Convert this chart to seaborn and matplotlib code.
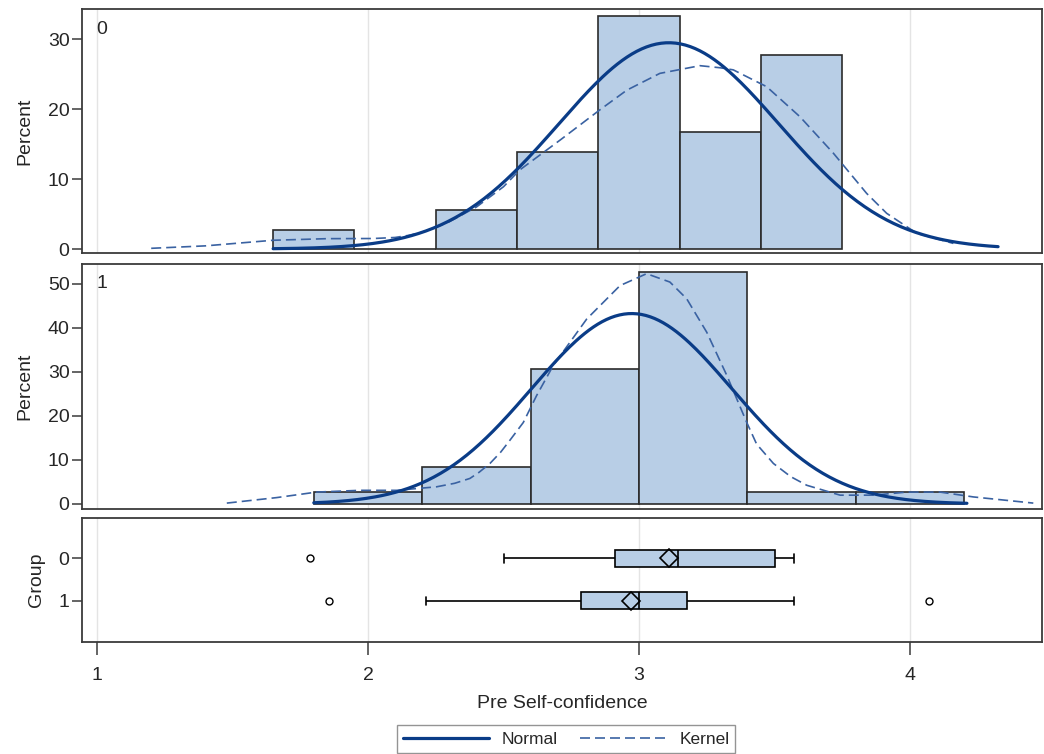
import numpy as np
import pandas as pd
import matplotlib
matplotlib.use("Agg")
import matplotlib.pyplot as plt
from matplotlib.lines import Line2D
import seaborn as sns

# ---------------- data ----------------
group0_scores = [1.786, 2.5, 2.5, 2.571, 2.643, 2.714, 2.786, 2.786,
                 2.857, 2.929, 3.0, 3.0, 3.0, 3.071, 3.071, 3.071,
                 3.143, 3.143, 3.143, 3.143,
                 3.214, 3.286, 3.286, 3.357, 3.357, 3.429,
                 3.5, 3.5, 3.5, 3.5, 3.5, 3.5, 3.5, 3.571, 3.571, 3.571]
group1_scores = [1.857, 2.214, 2.429, 2.5,
                 2.643, 2.643, 2.714, 2.714, 2.786, 2.786, 2.857, 2.857,
                 2.929, 2.929, 2.929,
                 3.0, 3.0, 3.0, 3.0, 3.0, 3.0, 3.0, 3.0, 3.071, 3.071,
                 3.143, 3.143, 3.286, 3.286, 3.286, 3.286, 3.286, 3.286, 3.357,
                 3.571, 4.071]
bin_edges0 = [1.65, 1.95, 2.25, 2.55, 2.85, 3.15, 3.45, 3.75]
bin_edges1 = [1.8, 2.2, 2.6, 3.0, 3.4, 3.8, 4.2]

# fitted normal curves (mean, sd, drawn range)
normal0_mean, normal0_sd, normal0_range = 3.11, 0.406, (1.65, 4.325)
normal1_mean, normal1_sd, normal1_range = 2.973, 0.369, (1.80, 4.21)

kernel0_x = [1.20, 1.40, 1.65, 1.85, 2.02, 2.10, 2.15, 2.20, 2.25, 2.30, 2.40, 2.50, 2.56,
             2.71, 2.856, 2.955, 3.077, 3.225, 3.30, 3.348, 3.471, 3.594,
             3.717, 3.84, 3.914, 4.025, 4.16]
kernel0_y = [0.1, 0.45, 1.25, 1.48, 1.5, 1.65, 1.95, 2.4, 3.1, 3.9, 6.0, 8.9, 11.3,
             15.6, 19.9, 22.7, 25.1, 26.2, 25.9, 25.6, 23.2, 18.9,
             13.7, 7.95, 5.1, 2.24, 0.8]
kernel1_x = [1.479, 1.663, 1.81, 1.97, 2.106, 2.253, 2.32, 2.376, 2.41, 2.45, 2.49,
             2.524, 2.573, 2.622, 2.684, 2.807, 2.93, 3.028, 3.114, 3.176, 3.25, 3.324,
             3.397, 3.434, 3.496, 3.56, 3.619, 3.742, 3.865, 3.988, 4.111, 4.234, 4.455]
kernel1_y = [0.2, 1.45, 2.7, 3.1, 3.1, 3.9, 4.7, 5.8, 7.2, 9.2, 11.8,
             14.5, 18.5, 24.6, 31.5, 42.0, 49.6, 52.3, 50.4, 46.6, 39.0, 29.2,
             18.6, 13.6, 9.2, 6.2, 4.25, 2.0, 2.0, 2.7, 2.7, 1.6, 0.2]

group_labels = ["0", "1"]
x_ticks = [1, 2, 3, 4]
x_label = "Pre Self-confidence"
legend_labels = ["Normal", "Kernel"]

# ---------------- style ----------------
sns.set_theme(style="white")
plt.rcParams["font.family"] = ["Liberation Sans", "DejaVu Sans"]
FILL = "#B8CEE6"
EDGE = "#2b2b2b"
NORMAL_C = "#0A3C87"
KERNEL_C = "#3A62A2"
SPINE = "#3a3a3a"
GRID = "#E4E4E4"
FS = 14

W, H = 1044, 754
fig = plt.figure(figsize=(W / 100, H / 100), dpi=100)


def px_axes(left, top, right, bottom):
    return fig.add_axes([left / W, 1 - bottom / H, (right - left) / W, (bottom - top) / H])


ax1 = px_axes(82, 9, 1042, 253)
ax2 = px_axes(82, 264, 1042, 509)
ax3 = px_axes(82, 518, 1042, 642)

xlim = (1 - 15 / 271, 1 + (1042 - 97) / 271)


def normal_curve(mean, sd, rng, width):
    xs = np.linspace(rng[0], rng[1], 300)
    ys = 100 * width * np.exp(-0.5 * ((xs - mean) / sd) ** 2) / (sd * np.sqrt(2 * np.pi))
    return xs, ys


panels = [
    (ax1, group0_scores, bin_edges0, normal0_mean, normal0_sd, normal0_range,
     kernel0_x, kernel0_y, (-0.57, 34.3), [0, 10, 20, 30], group_labels[0], 0.918),
    (ax2, group1_scores, bin_edges1, normal1_mean, normal1_sd, normal1_range,
     kernel1_x, kernel1_y, (-1.14, 54.5), [0, 10, 20, 30, 40, 50], group_labels[1], 0.922),
]

for ax, scores, edges, mu, sd, rng, kx, ky, ylim, yt, lab, ly in panels:
    for t in x_ticks:
        ax.axvline(t, color=GRID, lw=1, zorder=0)
    sns.histplot(x=scores, bins=edges, stat="percent", ax=ax, color=FILL,
                 edgecolor=EDGE, linewidth=1.2, alpha=1, zorder=2)
    nx, ny = normal_curve(mu, sd, rng, edges[1] - edges[0])
    sns.lineplot(x=nx, y=ny, ax=ax, color=NORMAL_C, lw=2.3, estimator=None, zorder=4)
    sns.lineplot(x=kx, y=ky, ax=ax, color=KERNEL_C, lw=1.2, estimator=None, zorder=3)
    ax.lines[-1].set_dashes((6, 3))
    ax.set_xlim(*xlim)
    ax.set_ylim(*ylim)
    ax.set_yticks(yt)
    ax.set_ylabel("Percent", fontsize=FS, labelpad=10)
    ax.set_xlabel("")
    ax.tick_params(axis="x", bottom=False, labelbottom=False)
    ax.tick_params(axis="y", left=True, length=7, width=1.1, color=SPINE,
                   labelsize=FS, pad=2)
    ax.text(0.015, ly, lab, transform=ax.transAxes,
            fontsize=FS, va="center", ha="left")

# ---------------- box plot panel ----------------
box_df = pd.DataFrame({
    "score": group0_scores + group1_scores,
    "group": [group_labels[0]] * len(group0_scores) + [group_labels[1]] * len(group1_scores),
})
for t in x_ticks:
    ax3.axvline(t, color=GRID, lw=1, zorder=0)
sns.boxplot(data=box_df, x="score", y="group", order=group_labels, orient="h",
            width=0.4, color=FILL, saturation=1, linecolor="black", linewidth=1.2,
            whis=1.5, fliersize=5,
            flierprops=dict(marker="o", markerfacecolor="none",
                            markeredgecolor="black", markeredgewidth=1),
            ax=ax3)
means = [np.mean(group0_scores), np.mean(group1_scores)]
ax3.plot(means, [0, 1], linestyle="none", marker="D", markersize=9,
         markerfacecolor="none", markeredgecolor="black", markeredgewidth=1.2, zorder=5)
ax3.set_xlim(*xlim)
ax3.set_ylim(1.97, -0.95)
ax3.set_xticks(x_ticks)
ax3.set_xticklabels([str(t) for t in x_ticks])
ax3.set_ylabel("Group", fontsize=FS, labelpad=10)
ax3.set_xlabel(x_label, fontsize=FS, labelpad=8)
ax3.tick_params(axis="x", bottom=True, length=9, width=1.1, color=SPINE,
                labelsize=FS, pad=9)
ax3.tick_params(axis="y", left=True, length=7, width=1.1, color=SPINE,
                labelsize=FS, pad=2)

for ax in (ax1, ax2, ax3):
    for s in ax.spines.values():
        s.set_color(SPINE)
        s.set_linewidth(1.3)
        s.set_visible(True)
    ax.grid(False)

handles = [Line2D([], [], color=NORMAL_C, lw=2.3),
           Line2D([], [], color=KERNEL_C, lw=1.2, dashes=(6, 3))]
leg = fig.legend(handles, legend_labels, loc="center",
                 bbox_to_anchor=(566 / W, 1 - 739 / H), ncol=2, frameon=True,
                 fancybox=False, edgecolor="#7a7a7a", fontsize=12.5,
                 handlelength=5, handletextpad=0.7, columnspacing=1.3,
                 borderpad=0.35)
leg.get_frame().set_linewidth(1.0)

fig.savefig("out.png", dpi=100)
